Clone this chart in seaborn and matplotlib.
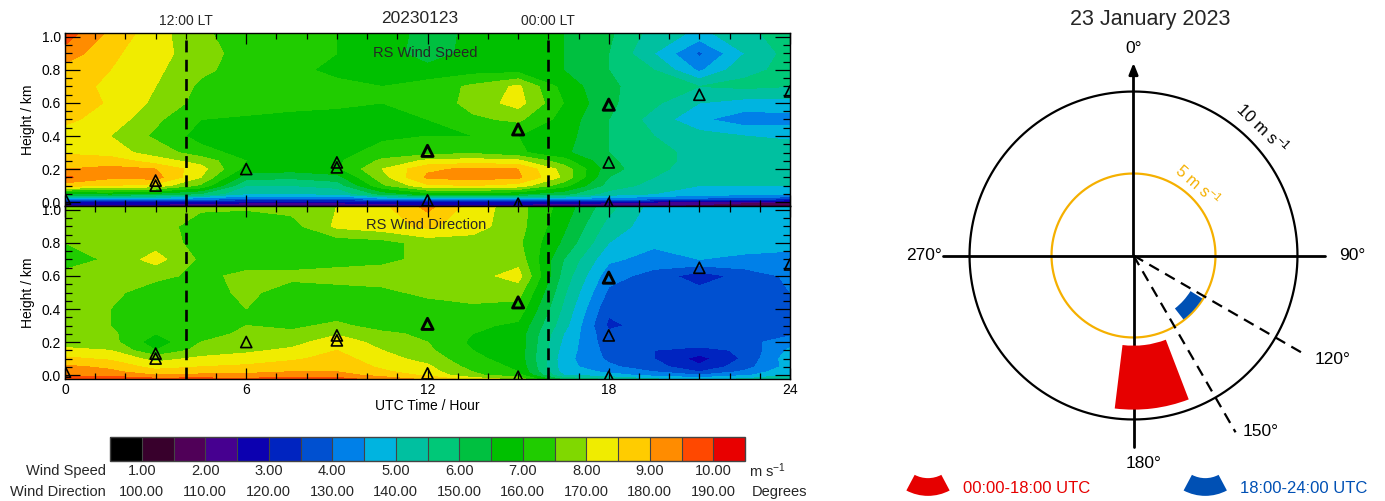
import numpy as np
import matplotlib
matplotlib.use("Agg")
import matplotlib.pyplot as plt
import matplotlib.transforms as mtransforms
from matplotlib.patches import Patch, Wedge
from matplotlib.legend_handler import HandlerPatch
from matplotlib.ticker import MultipleLocator, FormatStrFormatter
import seaborn as sns

# ---------------------------------------------------------------- data
hours = [0, 1.5, 3, 4.5, 6, 7.5, 9, 10.5, 12, 13.5, 15, 16.5, 18, 19.5, 21, 22.5, 24]
heights = [-0.03, 0.0, 0.02, 0.05, 0.1, 0.15, 0.2, 0.25, 0.3, 0.4, 0.5, 0.6, 0.7, 0.8, 0.9, 1.03]

# radiosonde wind speed (m s-1), one row per height
wind_speed = [
    [2.2, 2.2, 2.1, 2.1, 2.0, 2.0, 2.0, 2.1, 2.2, 2.2, 2.1, 2.1, 2.0, 1.9, 1.7, 1.5, 1.4],
    [2.9, 2.9, 2.8, 2.7, 2.6, 2.6, 2.6, 2.7, 2.8, 2.8, 2.8, 2.7, 2.6, 2.5, 2.3, 2.1, 2.0],
    [4.5, 4.5, 4.4, 4.2, 4.0, 3.9, 3.9, 4.3, 4.6, 4.6, 4.5, 4.4, 4.3, 4.1, 3.9, 3.7, 3.6],
    [6.5, 6.6, 6.4, 6.0, 5.0, 5.0, 5.1, 6.2, 6.8, 6.8, 6.6, 6.2, 5.3, 5.0, 4.8, 4.7, 4.7],
    [8.7, 8.5, 8.3, 7.4, 5.5, 5.5, 5.7, 7.4, 8.4, 8.5, 8.3, 7.2, 5.8, 5.3, 5.0, 5.0, 5.0],
    [9.6, 9.1, 9.2, 8.0, 6.2, 6.1, 6.3, 7.8, 9.1, 9.2, 9.1, 7.9, 6.0, 5.5, 5.2, 5.2, 5.2],
    [9.0, 9.1, 9.0, 8.2, 6.8, 6.7, 6.9, 8.0, 8.9, 9.1, 9.0, 7.8, 6.2, 5.6, 5.3, 5.3, 5.3],
    [8.9, 8.8, 8.2, 7.8, 7.0, 6.8, 6.9, 7.6, 8.1, 8.2, 8.1, 7.2, 6.1, 5.6, 5.4, 5.4, 5.3],
    [8.4, 8.2, 7.8, 7.2, 6.8, 6.7, 6.8, 7.2, 7.3, 7.4, 7.1, 6.6, 6.0, 5.6, 5.4, 5.4, 5.3],
    [8.3, 8.0, 7.4, 6.8, 6.7, 6.7, 6.8, 6.9, 7.0, 7.0, 7.0, 6.7, 6.0, 5.5, 5.2, 5.0, 4.9],
    [8.6, 8.3, 7.6, 7.0, 6.9, 6.8, 6.8, 6.9, 7.0, 7.4, 7.6, 6.8, 6.0, 5.3, 4.6, 4.2, 4.3],
    [9.0, 8.4, 7.9, 7.3, 7.3, 7.2, 7.1, 7.0, 7.1, 7.7, 8.2, 7.0, 6.1, 5.6, 5.0, 4.8, 4.8],
    [8.7, 8.4, 8.0, 7.4, 7.2, 7.2, 7.1, 7.0, 7.2, 7.6, 8.1, 6.8, 6.1, 5.7, 5.5, 5.6, 5.5],
    [8.8, 8.5, 8.1, 7.6, 7.3, 7.1, 6.9, 6.8, 6.7, 6.8, 6.8, 6.5, 6.0, 5.5, 4.4, 5.4, 5.6],
    [9.3, 8.6, 8.2, 7.7, 7.3, 7.2, 7.0, 6.8, 6.2, 6.7, 6.8, 6.5, 6.0, 5.0, 3.9, 5.0, 5.7],
    [9.8, 8.9, 8.2, 7.6, 7.2, 7.1, 7.0, 6.8, 6.3, 6.6, 6.7, 6.5, 6.1, 5.3, 4.9, 5.3, 5.9],
]

# radiosonde wind direction (degrees), one row per height
wind_direction = [
    [190, 190, 188, 188, 187, 189, 188, 184, 180, 174, 170, 150, 146, 142, 140, 142, 146],
    [184, 183, 180, 181, 181, 182, 182, 178, 174, 166, 162, 140, 137, 133, 130, 134, 140],
    [182, 181, 177, 178, 179, 180, 180, 176, 172, 165, 160, 138, 134, 130, 125, 131, 139],
    [181, 179, 173, 175, 176, 178, 179, 174, 171, 163, 159, 137, 131, 127, 121, 128, 137],
    [176, 174, 168, 171, 172, 174, 177, 172, 168, 161, 158, 137, 129, 125, 118, 126, 138],
    [171, 170, 160, 167, 169, 171, 175, 170, 166, 160, 158, 138, 128, 125, 123, 126, 136],
    [168, 167, 157, 165, 167, 168, 173, 168, 165, 159, 158, 139, 127, 127, 128, 128, 133],
    [167, 166, 160, 163, 166, 166, 169.5, 166, 164, 160, 158, 140, 126, 127, 130, 128, 129],
    [167, 165, 162, 162, 165, 164, 166, 163, 162, 161, 159, 142, 124, 127, 130, 128, 129],
    [167, 165, 162, 162, 165, 162, 162, 162, 163, 164, 163, 144, 126, 127, 129, 128, 128],
    [167, 166, 163, 163, 166, 163, 163, 164, 166, 167, 167, 146, 129, 128, 127, 128, 130],
    [167, 167, 166, 164, 166, 166, 167, 167, 167, 168, 172, 148, 132, 128, 122, 127, 131],
    [162, 166, 172, 164, 163, 163, 163, 164, 166, 168, 168, 150, 136, 133, 135, 134, 134],
    [165, 166, 168, 163, 162, 162, 162, 163, 167, 168, 166, 154, 140, 136, 137, 137, 136],
    [167, 167, 167, 163, 162, 163, 171, 173, 176, 172, 167, 156, 143, 137, 137, 137, 137],
    [167, 167, 167, 166, 166, 167, 170, 174, 182, 173, 167, 158, 147, 138, 137, 137, 139],
]

# radiosonde launch markers
sonde_hours = [0, 3, 3, 6, 9, 9, 12, 12, 15, 15, 18, 18, 18, 21, 24]
sonde_heights = [0.02, 0.10, 0.13, 0.20, 0.21, 0.24, 0.31, 0.01, 0.44, -0.01, 0.59, 0.24, -0.01, 0.65, 0.67]
sonde_bold = [False, False, False, False, False, False, True, False, True, False, True, False, False, False, False]

local_time_hours = [4, 16]
local_time_labels = ["12:00 LT", "00:00 LT"]
date_label = "20230123"

speed_ticks = [1, 2, 3, 4, 5, 6, 7, 8, 9, 10]
direction_ticks = [100, 110, 120, 130, 140, 150, 160, 170, 180, 190]
palette = ["#000000", "#38002c", "#500058", "#460090", "#0c00b0", "#0024c0",
           "#0050d0", "#0080e8", "#00b4e0", "#00c0a0", "#00c878", "#00c040",
           "#00c000", "#20cc00", "#80d800", "#f0ec00", "#ffcc00", "#ff8c00",
           "#ff4800", "#e80000"]

# hodograph-style summary panel
period_labels = ["00:00-18:00 UTC", "18:00-24:00 UTC"]
period_colors = ["#e60000", "#0050b4"]
sector_dir_from = [159, 122]
sector_dir_to = [187, 142]
sector_speed_min = [5.5, 4.1]
sector_speed_max = [9.4, 4.95]
ring_speeds = [5, 10]
ring_colors = ["#f5b000", "black"]
cardinal_bearings = [90, 180, 270]
cardinal_reach = [11.7, 11.68, 11.6]
guide_bearings = [120, 150]
guide_reach = [11.95, 12.45]

# ---------------------------------------------------------------- style
sns.set_theme(style="ticks")
plt.rcParams["font.family"] = ["Liberation Sans", "DejaVu Sans"]
plt.rcParams["mathtext.fontset"] = "custom"
plt.rcParams["mathtext.rm"] = "Liberation Sans"
plt.rcParams["mathtext.it"] = "Liberation Sans:italic"
plt.rcParams["mathtext.bf"] = "Liberation Sans:bold"

W, H = 1385, 501
fig = plt.figure(figsize=(W / 100, H / 100), dpi=100)


def box(x0, y0, x1, y1):
    return [x0 / W, 1 - y1 / H, (x1 - x0) / W, (y1 - y0) / H]


ax_s = fig.add_axes(box(65, 33, 790, 206))
ax_d = fig.add_axes(box(65, 206, 790, 379))
cax = fig.add_axes(box(110, 437, 745, 461))
pc, pr = (1133.5, 255.5), 206.6
ax_p = fig.add_axes(box(pc[0] - pr, pc[1] - pr, pc[0] + pr, pc[1] + pr), projection="polar")

speed_levels = np.linspace(0.5, 10.5, 21)
direction_levels = np.linspace(95, 195, 21)

cs_s = ax_s.contourf(hours, heights, np.array(wind_speed), levels=speed_levels, colors=palette)
cs_d = ax_d.contourf(hours, heights, np.array(wind_direction), levels=direction_levels, colors=palette)

for ax in (ax_s, ax_d):
    ax.set_axisbelow(False)
    ax.set_xlim(0, 24)
    ax.set_ylim(-0.024, 1.024)
    ax.xaxis.set_major_locator(MultipleLocator(6))
    ax.xaxis.set_minor_locator(MultipleLocator(1))
    ax.yaxis.set_major_locator(MultipleLocator(0.2))
    ax.yaxis.set_minor_locator(MultipleLocator(0.05))
    ax.yaxis.set_major_formatter(FormatStrFormatter("%.1f"))
    ax.tick_params(which="both", direction="in", top=True, right=True, color="black",
                   width=0.9, labelsize=10, labelcolor="black", pad=3)
    ax.tick_params(axis="y", which="major", length=11)
    ax.tick_params(axis="y", which="minor", length=5)
    ax.tick_params(axis="x", which="major", length=8)
    ax.tick_params(axis="x", which="minor", length=4)
    ax.set_ylabel("Height / km", fontsize=10, color="black", labelpad=5)
    for sp in ax.spines.values():
        sp.set_linewidth(1.0)
        sp.set_color("black")
    for hx in local_time_hours:
        ax.axvline(hx, color="black", lw=1.9, dashes=(4.5, 2.8), zorder=4)
    for bold in (False, True):
        sel = [i for i, b in enumerate(sonde_bold) if b == bold]
        sns.scatterplot(x=[sonde_hours[i] for i in sel], y=[sonde_heights[i] for i in sel],
                        marker="^", s=64, facecolor="none", edgecolor="black",
                        linewidth=2.1 if bold else 1.2, ax=ax, zorder=5, legend=False)
    ax.set_xlabel("")

ax_s.tick_params(axis="x", labelbottom=False)
ax_d.set_xlabel("UTC Time / Hour", fontsize=10, color="black", labelpad=1)

ax_s.text(10.2, 0.9, "RS Wind Speed", fontsize=10.5, va="center", ha="left", zorder=6)
ax_d.text(9.95, 0.91, "RS Wind Direction", fontsize=10.5, va="center", ha="left", zorder=6)

top_trans = mtransforms.blended_transform_factory(ax_s.transData, ax_s.transAxes)
for hx, lab in zip(local_time_hours, local_time_labels):
    ax_s.text(hx, 1.07, lab, transform=top_trans, ha="center", va="center", fontsize=10)
ax_s.text(11.75, 1.083, date_label, transform=top_trans, ha="center", va="center", fontsize=12.5)

# colour bar with paired speed / direction scales
cbar = fig.colorbar(cs_s, cax=cax, orientation="horizontal", drawedges=True)
cbar.set_ticks([])
cax.minorticks_off()
cbar.outline.set_linewidth(1.0)
cbar.outline.set_edgecolor("#444444")
cbar.dividers.set_color("#444444")
cbar.dividers.set_linewidth(0.8)
cb_trans = mtransforms.blended_transform_factory(cax.transData, cax.transAxes)
for sv, dv in zip(speed_ticks, direction_ticks):
    cax.text(sv, -0.40, f"{sv:.2f}", transform=cb_trans, ha="center", va="center", fontsize=10.5)
    cax.text(sv, -1.30, f"{dv:.2f}", transform=cb_trans, ha="center", va="center", fontsize=10.5)
cax.text(-0.006, -0.40, "Wind Speed", transform=cax.transAxes, ha="right", va="center", fontsize=10.5)
cax.text(-0.006, -1.30, "Wind Direction", transform=cax.transAxes, ha="right", va="center", fontsize=10.5)
cax.text(1.006, -0.40, "m s$^{-1}$", transform=cax.transAxes, ha="left", va="center", fontsize=10.5)
cax.text(1.011, -1.30, "Degrees", transform=cax.transAxes, ha="left", va="center", fontsize=10.5)

# ---------------------------------------------------------------- polar summary
ax_p.set_theta_zero_location("N")
ax_p.set_theta_direction(-1)
ax_p.set_ylim(0, 12.6)
ax_p.grid(False)
ax_p.set_xticks([])
ax_p.set_yticks([])
ax_p.spines["polar"].set_visible(False)
ax_p.patch.set_alpha(0)

theta_ring = np.linspace(0, 2 * np.pi, 721)
for r, c in zip(ring_speeds, ring_colors):
    ax_p.plot(theta_ring, np.full_like(theta_ring, r), color=c, lw=1.6, zorder=2)

for b, reach in zip(cardinal_bearings, cardinal_reach):
    ax_p.plot([np.deg2rad(b)] * 2, [0, reach], color="black", lw=2.0, zorder=2)
ax_p.annotate("", xy=(0, 11.75), xytext=(0, 0),
              arrowprops=dict(arrowstyle="-|>,head_length=0.55,head_width=0.22",
                              color="black", lw=2.0, shrinkA=0, shrinkB=0), zorder=2)

for b, reach in zip(guide_bearings, guide_reach):
    ax_p.plot([np.deg2rad(b)] * 2, [0, reach], color="black", lw=1.6,
              dashes=(5, 3.2), zorder=4)

for d0, d1, r0, r1, c in zip(sector_dir_from, sector_dir_to, sector_speed_min,
                             sector_speed_max, period_colors):
    ax_p.bar(np.deg2rad((d0 + d1) / 2), r1 - r0, width=np.deg2rad(d1 - d0), bottom=r0,
             color=c, edgecolor="none", align="center", zorder=3)

lab_kw = dict(fontsize=12.5, color="black")
ax_p.text(0, 12.6, "0°", ha="center", va="center", **lab_kw)
ax_p.text(np.deg2rad(90), 12.55, "90°", ha="left", va="center", **lab_kw)
ax_p.text(np.deg2rad(177.2), 12.7, "180°", ha="center", va="center", **lab_kw)
ax_p.text(np.deg2rad(270), 11.7, "270°", ha="right", va="center", **lab_kw)
ax_p.text(np.deg2rad(119.9), 12.77, "120°", ha="left", va="center", **lab_kw)
ax_p.text(np.deg2rad(148.2), 12.66, "150°", ha="left", va="center", **lab_kw)

ax_p.text(np.deg2rad(45.4), 11.1, "10 m s$^{-1}$", rotation=-44, rotation_mode="anchor",
          ha="center", va="center", fontsize=12, color="black")
ax_p.text(np.deg2rad(42.2), 5.82, "5 m s$^{-1}$", rotation=-41, rotation_mode="anchor",
          ha="center", va="center", fontsize=11.5, color=ring_colors[0])

fig.text(1150 / W, 1 - 20 / H, "23 January 2023", ha="center", va="center", fontsize=15.5)


class SectorHandler(HandlerPatch):
    """Legend glyph shaped like an annular sector opening downwards."""

    def create_artists(self, legend, orig_handle, xdescent, ydescent, width, height,
                       fontsize, trans):
        r_out = height * 2.6
        cx = -xdescent + width / 2
        cy = -ydescent + r_out
        p = Wedge((cx, cy), r_out, 270 - 28, 270 + 28, width=height)
        self.update_prop(p, orig_handle, legend)
        p.set_transform(trans)
        return [p]


handles = [Patch(facecolor=c, edgecolor="none") for c in period_colors]
leg = fig.legend(handles, period_labels, handler_map={Patch: SectorHandler()},
                 loc="center left", bbox_to_anchor=(903 / W, 1 - 487 / H), ncol=2,
                 frameon=False, fontsize=12, handlelength=3.0, handleheight=1.26,
                 handletextpad=0.6, columnspacing=5.4, borderpad=0, borderaxespad=0)
for t, c in zip(leg.get_texts(), period_colors):
    t.set_color(c)

fig.savefig("out.png", dpi=100)
